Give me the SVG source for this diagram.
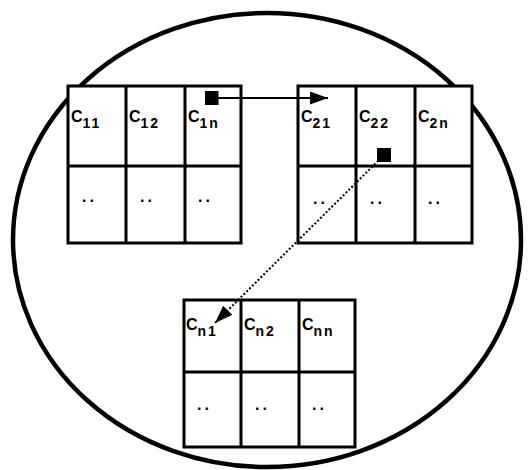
<svg xmlns="http://www.w3.org/2000/svg" width="529" height="470" viewBox="0 0 529 470">
<style>
.bg{fill:#fff}
.ell{fill:none;stroke:#000;stroke-width:4.5}
.cell{fill:#fff;stroke:#000;stroke-width:3}
.ln{fill:none;stroke:#000;stroke-width:3}
.lbl{font-family:"Liberation Sans",Arial,sans-serif;font-size:16px;font-weight:bold;fill:#000}
.sub{font-size:14px;letter-spacing:2px}
.dots{font-family:"Liberation Sans",Arial,sans-serif;font-size:16px;font-weight:bold;letter-spacing:3px;fill:#000}
.conn{fill:none;stroke:#000;stroke-width:2}
.dotted{stroke-dasharray:2 2}
</style>
<defs>
<marker id="arrow" markerUnits="userSpaceOnUse" markerWidth="20" markerHeight="14" refX="18" refY="6.5" orient="auto">
<path d="M0,0 L18,6.5 L0,13 z" fill="#000" stroke="none"/>
</marker>
<marker id="sq" markerUnits="userSpaceOnUse" markerWidth="14" markerHeight="14" refX="7" refY="7" orient="0">
<rect x="0" y="0" width="14" height="14" fill="#000" stroke="none"/>
</marker>
</defs>
<rect class="bg" x="0" y="0" width="529" height="470"/>
<ellipse id="boundary" class="ell" cx="267" cy="240" rx="254" ry="227"/>

<g id="grid1">
<rect class="cell" x="68" y="86" width="173" height="157"/>
<path class="ln" d="M126,86 V243 M185,86 V243 M68,166 H241"/>
<text class="lbl" x="71" y="122">C<tspan class="sub" dy="6">11</tspan></text>
<text class="lbl" x="129" y="122">C<tspan class="sub" dy="6">12</tspan></text>
<text class="lbl" x="188" y="122">C<tspan class="sub" dy="6">1n</tspan></text>
<text class="dots" x="82" y="202">..</text>
<text class="dots" x="140" y="202">..</text>
<text class="dots" x="198" y="202">..</text>
</g>

<g id="grid2">
<rect class="cell" x="298" y="86" width="174" height="157"/>
<path class="ln" d="M356,86 V243 M415,86 V243 M298,166 H472"/>
<text class="lbl" x="301" y="122">C<tspan class="sub" dy="6">21</tspan></text>
<text class="lbl" x="359" y="122">C<tspan class="sub" dy="6">22</tspan></text>
<text class="lbl" x="418" y="122">C<tspan class="sub" dy="6">2n</tspan></text>
<text class="dots" x="313" y="204">..</text>
<text class="dots" x="370" y="204">..</text>
<text class="dots" x="428" y="204">..</text>
</g>

<g id="grid3">
<rect class="cell" x="184" y="300" width="171" height="147"/>
<path class="ln" d="M241,300 V447 M299,300 V447 M184,372 H355"/>
<text class="lbl" x="186" y="330">C<tspan class="sub" dy="6">n1</tspan></text>
<text class="lbl" x="244" y="330">C<tspan class="sub" dy="6">n2</tspan></text>
<text class="lbl" x="302" y="330">C<tspan class="sub" dy="6">nn</tspan></text>
<text class="dots" x="197" y="410">..</text>
<text class="dots" x="255" y="410">..</text>
<text class="dots" x="312" y="410">..</text>
</g>

<g id="connectors">
<line class="conn" x1="211.5" y1="98" x2="328" y2="98" marker-start="url(#sq)" marker-end="url(#arrow)"/>
<line class="conn dotted" x1="384" y1="155" x2="215" y2="323" marker-start="url(#sq)" marker-end="url(#arrow)"/>
</g>
</svg>
